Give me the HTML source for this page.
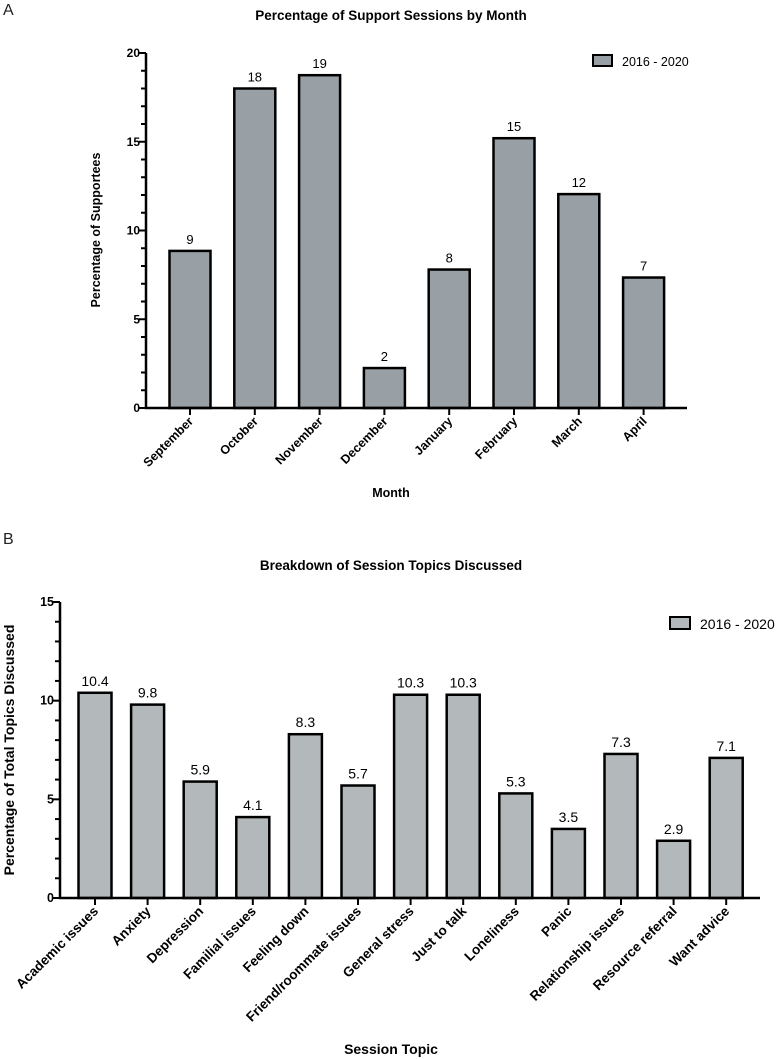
<!DOCTYPE html>
<html><head><meta charset="utf-8"><style>
html,body{margin:0;padding:0;background:#fff;}
svg{display:block;font-family:"Liberation Sans",Arial,sans-serif;}
</style></head><body>
<svg id="s" width="783" height="1059" viewBox="0 0 783 1059"></svg>
<script>
const monthCats=["September","October","November","December","January","February","March","April"];
const monthVals=[8.85,18.0,18.75,2.25,7.8,15.2,12.05,7.35];
const monthLabels=["9","18","19","2","8","15","12","7"];
const monthTicks=[0,5,10,15,20];
const topicCats=["Academic issues","Anxiety","Depression","Familial issues","Feeling down","Friend/roommate issues","General stress","Just to talk","Loneliness","Panic","Relationship issues","Resource referral","Want advice"];
const topicVals=[10.4,9.8,5.9,4.1,8.3,5.7,10.3,10.3,5.3,3.5,7.3,2.9,7.1];
const topicLabels=["10.4","9.8","5.9","4.1","8.3","5.7","10.3","10.3","5.3","3.5","7.3","2.9","7.1"];
const topicTicks=[0,5,10,15];

const NS="http://www.w3.org/2000/svg";
const svg=document.getElementById('s');
function mk(tag,attrs,parent,text){const e=document.createElementNS(NS,tag);for(const k in attrs)e.setAttribute(k,attrs[k]);if(text!==undefined)e.textContent=text;(parent||svg).appendChild(e);return e;}

function chart(o){
  const g=mk('g',{});
  
  
  const y=v=>o.y0-(v/o.ymax)*(o.y0-o.ytop);
  const x=i=>o.c0+i*o.step;
  const L=mk('text',{x:3,y:o.letterY,'font-size':16,fill:'#222'},g,o.letter);
  
  
  const T=mk('text',{x:391,y:o.titleY,'font-size':13.5,'font-weight':'bold','text-anchor':'middle'},g,o.title);
  
  
  o.vals.forEach((v,i)=>{
    const b=mk('rect',{x:x(i)-o.bw/2,y:y(v),width:o.bw,height:o.y0-y(v),fill:o.fill,stroke:'#000','stroke-width':2.5},g);
    
    
    const t=mk('text',{x:x(i),y:y(v)-7,'font-size':o.vfs,'text-anchor':'middle'},g,o.labels[i]);
    
    
    mk('line',{x1:x(i),x2:x(i),y1:o.y0,y2:o.y0+7,stroke:'#000','stroke-width':2},g);
    const c=mk('text',{transform:`translate(${x(i)+4},${o.y0+14}) rotate(-45)`,'font-size':o.cfs,'font-weight':'bold','text-anchor':'end'},g,o.cats[i]);
    
    
  });
  const ax=mk('path',{d:`M${o.ax},${o.ytop} V${o.y0} H${o.axEnd}`,fill:'none',stroke:'#000','stroke-width':2.5},g);
  
  
  for(let v=0;v<=o.ymax;v++){
    const major=o.ticks.includes(v);
    mk('line',{x1:o.ax-(major?7:5),x2:o.ax,y1:y(v),y2:y(v),stroke:'#000','stroke-width':2},g);
  }
  o.ticks.forEach(v=>{
    const t=mk('text',{x:o.ax-6,y:y(v)+4,'font-size':o.tfs,'font-weight':'bold','text-anchor':'end'},g,String(v));
    
    
  });
  const yl=mk('text',{transform:`translate(${o.ylx},${o.yly}) rotate(-90)`,'font-size':o.ylfs,'font-weight':'bold','text-anchor':'middle'},g,o.ytitle);
  
  
  const xl=mk('text',{x:391,y:o.xlY,'font-size':o.xlfs,'font-weight':'bold','text-anchor':'middle'},g,o.xtitle);
  
  
  const lg=mk('g',{},g);
  
  
  mk('rect',{x:o.lgx,y:o.lgy,width:o.lgw,height:o.lgh,fill:o.fill,stroke:'#000','stroke-width':2},lg);
  mk('text',{x:o.lgx+o.lgw+10,y:o.lgy+o.lgh,'font-size':o.lfs},lg,'2016 - 2020');
}

chart({name:'chart-sessions-by-month',letter:'A',letterY:15,title:'Percentage of Support Sessions by Month',titleY:20,
  cats:monthCats,vals:monthVals,labels:monthLabels,ticks:monthTicks,ymax:20,y0:408,ytop:53,ax:146,axEnd:687,
  c0:190,step:64.8,bw:41,fill:'#99a0a5',vfs:13,cfs:12.5,tfs:12,ylx:100,yly:230,ylfs:12.5,ytitle:'Percentage of Supportees',
  xlY:497,xlfs:12.5,xtitle:'Month',lgx:593,lgy:55,lgw:19,lgh:11,lfs:12.5});
chart({name:'chart-session-topics',letter:'B',letterY:544,title:'Breakdown of Session Topics Discussed',titleY:570,
  cats:topicCats,vals:topicVals,labels:topicLabels,ticks:topicTicks,ymax:15,y0:898,ytop:602,ax:60,axEnd:760,
  c0:95,step:52.6,bw:33,fill:'#b3b8ba',vfs:14,cfs:13.5,tfs:12.5,ylx:14,yly:750,ylfs:14,ytitle:'Percentage of Total Topics Discussed',
  xlY:1054,xlfs:14,xtitle:'Session Topic',lgx:670,lgy:617,lgw:20,lgh:12,lfs:14});
</script>
</body></html>
